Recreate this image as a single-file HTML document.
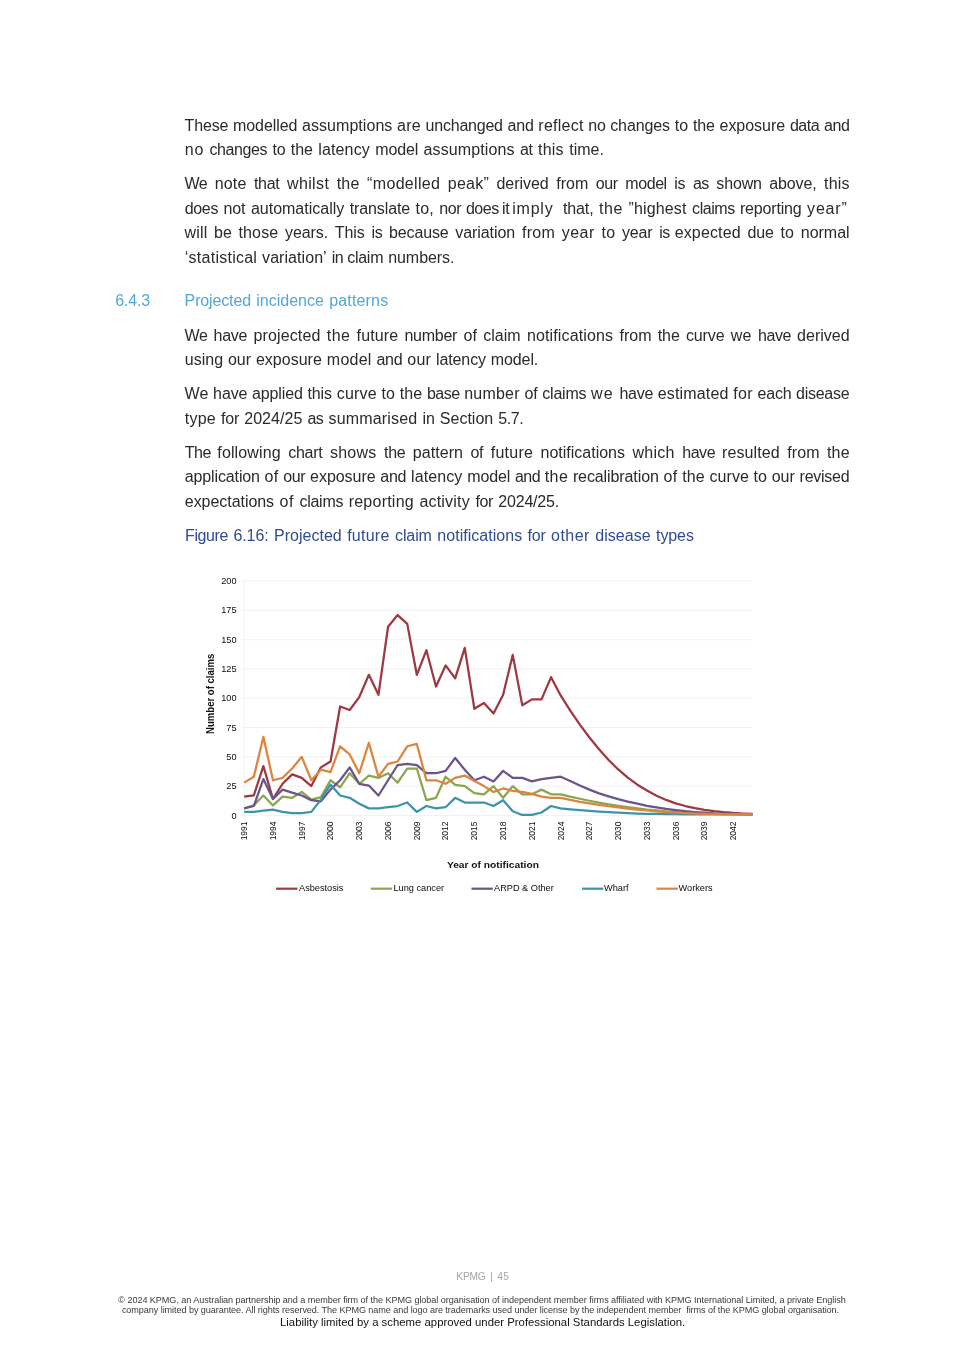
<!DOCTYPE html>
<html lang="en"><head><meta charset="utf-8"><title>Projected incidence patterns</title>
<style>
html,body{margin:0;padding:0;background:#fff}
body{width:965px;height:1365px;position:relative;overflow:hidden;font-family:"Liberation Sans", sans-serif}
.t{position:absolute;white-space:pre;margin:0}
.l{position:absolute;white-space:pre;margin:0;font-size:16px;line-height:20px;height:20px}
.l span{position:absolute;top:0}
svg{position:absolute;left:0;top:0}
svg text{font-family:"Liberation Sans", sans-serif}
</style></head><body>
<div class="l" style="left:184.5px;top:116.00px;color:#2a2a2a"><span style="left:0.0px;letter-spacing:-0.13px">These </span><span style="left:48.5px;letter-spacing:-0.07px">modelled </span><span style="left:117.6px;letter-spacing:0.04px">assumptions </span><span style="left:212.6px;letter-spacing:0.23px">are </span><span style="left:241.1px;letter-spacing:-0.22px">unchanged </span><span style="left:323.0px;letter-spacing:-0.20px">and </span><span style="left:353.8px;letter-spacing:0.25px">reflect </span><span style="left:403.8px;letter-spacing:-0.30px">no </span><span style="left:425.7px;letter-spacing:-0.10px">changes </span><span style="left:490.2px;letter-spacing:0.08px">to </span><span style="left:508.4px;letter-spacing:-0.12px">the </span><span style="left:535.0px;letter-spacing:-0.02px">exposure </span><span style="left:605.4px;letter-spacing:-0.44px">data </span><span style="left:639.5px;letter-spacing:-0.45px">and</span></div>
<div class="l" style="left:184.8px;top:140.00px;color:#2a2a2a"><span style="left:0.0px;letter-spacing:0.72px">no </span><span style="left:24.6px;letter-spacing:-0.39px">changes </span><span style="left:87.7px;letter-spacing:-0.25px">to </span><span style="left:105.9px;letter-spacing:-0.00px">the </span><span style="left:133.5px;letter-spacing:0.13px">latency </span><span style="left:190.5px;letter-spacing:-0.13px">model </span><span style="left:238.8px;letter-spacing:0.10px">assumptions </span><span style="left:335.1px;letter-spacing:-0.25px">at </span><span style="left:353.3px;letter-spacing:0.21px">this </span><span style="left:384.4px;letter-spacing:0.03px">time.</span></div>
<div class="l" style="left:184.5px;top:174.00px;color:#2a2a2a"><span style="left:0.0px;letter-spacing:-0.45px">We </span><span style="left:30.3px;letter-spacing:0.12px">note </span><span style="left:69.4px;letter-spacing:-0.27px">that </span><span style="left:102.5px;letter-spacing:0.37px">whilst </span><span style="left:152.2px;letter-spacing:0.22px">the </span><span style="left:182.6px;letter-spacing:0.33px">“modelled </span><span style="left:263.3px;letter-spacing:0.24px">peak” </span><span style="left:312.0px;letter-spacing:-0.04px">derived </span><span style="left:371.7px;letter-spacing:0.03px">from </span><span style="left:411.3px;letter-spacing:-0.37px">our </span><span style="left:440.8px;letter-spacing:-0.43px">model </span><span style="left:489.7px;letter-spacing:-0.17px">is </span><span style="left:508.4px;letter-spacing:-0.45px">as </span><span style="left:531.8px;letter-spacing:-0.15px">shown </span><span style="left:584.8px;letter-spacing:-0.14px">above, </span><span style="left:639.5px;letter-spacing:0.23px">this</span></div>
<div class="l" style="left:184.8px;top:199.00px;color:#2a2a2a"><span style="left:0.0px;letter-spacing:-0.37px">does </span><span style="left:38.7px;letter-spacing:-0.10px">not </span><span style="left:66.1px;letter-spacing:-0.00px">automatically </span><span style="left:164.9px;letter-spacing:-0.10px">translate </span><span style="left:230.8px;letter-spacing:0.15px">to, </span><span style="left:254.5px;letter-spacing:-0.45px">nor </span><span style="left:281.1px;letter-spacing:-0.45px">does </span><span style="left:317.3px;letter-spacing:-0.45px">it </span><span style="left:327.4px;letter-spacing:0.80px">imply </span><span style="left:378.1px;letter-spacing:-0.10px">that, </span><span style="left:414.2px;letter-spacing:0.56px">the </span><span style="left:443.6px;letter-spacing:0.16px">”highest </span><span style="left:507.3px;letter-spacing:-0.45px">claims </span><span style="left:555.1px;letter-spacing:-0.16px">reporting </span><span style="left:622.3px;letter-spacing:0.80px">year”</span></div>
<div class="l" style="left:184.5px;top:223.00px;color:#2a2a2a"><span style="left:0.0px;letter-spacing:0.18px">will </span><span style="left:29.6px;letter-spacing:-0.03px">be </span><span style="left:54.0px;letter-spacing:0.14px">those </span><span style="left:100.5px;letter-spacing:-0.09px">years. </span><span style="left:150.2px;letter-spacing:-0.02px">This </span><span style="left:187.0px;letter-spacing:-0.36px">is </span><span style="left:204.5px;letter-spacing:-0.14px">because </span><span style="left:270.7px;letter-spacing:-0.05px">variation </span><span style="left:337.4px;letter-spacing:0.29px">from </span><span style="left:377.2px;letter-spacing:0.50px">year </span><span style="left:417.0px;letter-spacing:0.25px">to </span><span style="left:437.5px;letter-spacing:-0.15px">year </span><span style="left:474.7px;letter-spacing:-0.45px">is </span><span style="left:490.2px;letter-spacing:0.14px">expected </span><span style="left:562.9px;letter-spacing:-0.12px">due </span><span style="left:595.9px;letter-spacing:0.20px">to </span><span style="left:616.3px;letter-spacing:-0.02px">normal</span></div>
<div class="l" style="left:184.8px;top:248.00px;color:#2a2a2a"><span style="left:0.0px;letter-spacing:0.25px">‘statistical </span><span style="left:77.3px;letter-spacing:0.06px">variation’ </span><span style="left:146.9px;letter-spacing:-0.45px">in </span><span style="left:162.4px;letter-spacing:-0.26px">claim </span><span style="left:203.4px;letter-spacing:-0.06px">numbers.</span></div>
<div class="l" style="left:115.2px;top:291.00px;color:#52a6da"><span style="left:0.0px;letter-spacing:-0.15px">6.4.3</span></div>
<div class="l" style="left:184.6px;top:291.00px;color:#52a6da"><span style="left:0.0px;letter-spacing:-0.14px">Projected </span><span style="left:71.6px;letter-spacing:0.01px">incidence </span><span style="left:144.6px;letter-spacing:0.17px">patterns</span></div>
<div class="l" style="left:184.5px;top:326.00px;color:#2a2a2a"><span style="left:0.0px;letter-spacing:-0.42px">We </span><span style="left:29.1px;letter-spacing:-0.28px">have </span><span style="left:68.9px;letter-spacing:0.15px">projected </span><span style="left:142.3px;letter-spacing:0.44px">the </span><span style="left:172.1px;letter-spacing:0.11px">future </span><span style="left:219.9px;letter-spacing:-0.25px">number </span><span style="left:278.9px;letter-spacing:0.16px">of </span><span style="left:298.8px;letter-spacing:0.01px">claim </span><span style="left:342.4px;letter-spacing:0.14px">notifications </span><span style="left:435.0px;letter-spacing:0.02px">from </span><span style="left:473.3px;letter-spacing:-0.13px">the </span><span style="left:501.4px;letter-spacing:-0.11px">curve </span><span style="left:546.2px;letter-spacing:0.36px">we </span><span style="left:573.6px;letter-spacing:-0.45px">have </span><span style="left:612.6px;letter-spacing:0.00px">derived</span></div>
<div class="l" style="left:184.8px;top:350.00px;color:#2a2a2a"><span style="left:0.0px;letter-spacing:0.01px">using </span><span style="left:43.2px;letter-spacing:-0.03px">our </span><span style="left:71.1px;letter-spacing:0.02px">exposure </span><span style="left:142.0px;letter-spacing:0.25px">model </span><span style="left:191.7px;letter-spacing:-0.29px">and </span><span style="left:222.4px;letter-spacing:0.30px">our </span><span style="left:251.3px;letter-spacing:-0.13px">latency </span><span style="left:306.0px;letter-spacing:-0.11px">model.</span></div>
<div class="l" style="left:184.5px;top:384.00px;color:#2a2a2a"><span style="left:0.0px;letter-spacing:0.09px">We </span><span style="left:28.6px;letter-spacing:-0.10px">have </span><span style="left:67.6px;letter-spacing:-0.14px">applied </span><span style="left:122.9px;letter-spacing:-0.08px">this </span><span style="left:152.2px;letter-spacing:0.20px">curve </span><span style="left:197.0px;letter-spacing:0.13px">to </span><span style="left:215.3px;letter-spacing:0.05px">the </span><span style="left:242.4px;letter-spacing:-0.45px">base </span><span style="left:279.7px;letter-spacing:0.21px">number </span><span style="left:339.9px;letter-spacing:-0.07px">of </span><span style="left:357.8px;letter-spacing:-0.22px">claims </span><span style="left:406.5px;letter-spacing:1.20px">we </span><span style="left:434.9px;letter-spacing:-0.25px">have </span><span style="left:473.3px;letter-spacing:0.15px">estimated </span><span style="left:548.7px;letter-spacing:0.34px">for </span><span style="left:573.1px;letter-spacing:-0.23px">each </span><span style="left:611.6px;letter-spacing:-0.28px">disease</span></div>
<div class="l" style="left:184.8px;top:409.00px;color:#2a2a2a"><span style="left:0.0px;letter-spacing:0.23px">type </span><span style="left:36.2px;letter-spacing:-0.17px">for </span><span style="left:59.4px;letter-spacing:0.05px">2024/25 </span><span style="left:122.6px;letter-spacing:-0.42px">as </span><span style="left:143.7px;letter-spacing:0.17px">summarised </span><span style="left:237.6px;letter-spacing:-0.04px">in </span><span style="left:255.0px;letter-spacing:0.01px">Section </span><span style="left:313.5px;letter-spacing:-0.45px">5.7.</span></div>
<div class="l" style="left:184.8px;top:443.00px;color:#2a2a2a"><span style="left:0.0px;letter-spacing:-0.45px">The </span><span style="left:32.5px;letter-spacing:0.14px">following </span><span style="left:103.4px;letter-spacing:-0.24px">chart </span><span style="left:145.2px;letter-spacing:0.24px">shows </span><span style="left:199.2px;letter-spacing:-0.29px">the </span><span style="left:228.0px;letter-spacing:0.05px">pattern </span><span style="left:285.6px;letter-spacing:-0.18px">of </span><span style="left:306.0px;letter-spacing:0.23px">future </span><span style="left:355.7px;letter-spacing:-0.00px">notifications </span><span style="left:447.6px;letter-spacing:0.30px">which </span><span style="left:497.4px;letter-spacing:-0.45px">have </span><span style="left:537.2px;letter-spacing:0.11px">resulted </span><span style="left:602.4px;letter-spacing:0.10px">from </span><span style="left:642.2px;letter-spacing:0.18px">the</span></div>
<div class="l" style="left:184.8px;top:467.00px;color:#2a2a2a"><span style="left:0.0px;letter-spacing:-0.13px">application </span><span style="left:79.8px;letter-spacing:0.28px">of </span><span style="left:98.4px;letter-spacing:-0.31px">our </span><span style="left:125.3px;letter-spacing:-0.05px">exposure </span><span style="left:195.4px;letter-spacing:-0.20px">and </span><span style="left:226.2px;letter-spacing:0.11px">latency </span><span style="left:282.4px;letter-spacing:-0.12px">model </span><span style="left:330.1px;letter-spacing:-0.45px">and </span><span style="left:360.0px;letter-spacing:0.38px">the </span><span style="left:388.1px;letter-spacing:-0.10px">recalibration </span><span style="left:478.7px;letter-spacing:0.33px">of </span><span style="left:497.4px;letter-spacing:0.15px">the </span><span style="left:524.8px;letter-spacing:0.03px">curve </span><span style="left:568.8px;letter-spacing:0.03px">to </span><span style="left:586.9px;letter-spacing:0.02px">our </span><span style="left:614.8px;letter-spacing:-0.26px">revised</span></div>
<div class="l" style="left:184.8px;top:492.00px;color:#2a2a2a"><span style="left:0.0px;letter-spacing:-0.05px">expectations </span><span style="left:94.7px;letter-spacing:0.54px">of </span><span style="left:114.6px;letter-spacing:-0.25px">claims </span><span style="left:163.9px;letter-spacing:0.23px">reporting </span><span style="left:234.6px;letter-spacing:0.20px">activity </span><span style="left:290.6px;letter-spacing:-0.42px">for </span><span style="left:313.5px;letter-spacing:-0.20px">2024/25.</span></div>
<div class="l" style="left:185.0px;top:526.00px;color:#2f4c8f"><span style="left:0.0px;letter-spacing:-0.38px">Figure </span><span style="left:48.5px;letter-spacing:-0.11px">6.16: </span><span style="left:89.0px;letter-spacing:0.02px">Projected </span><span style="left:162.2px;letter-spacing:0.24px">future </span><span style="left:210.0px;letter-spacing:-0.10px">claim </span><span style="left:252.3px;letter-spacing:0.03px">notifications </span><span style="left:342.6px;letter-spacing:-0.24px">for </span><span style="left:366.0px;letter-spacing:0.48px">other </span><span style="left:410.3px;letter-spacing:0.03px">disease </span><span style="left:471.1px;letter-spacing:-0.11px">types</span></div>
<div class="l" style="left:456.3px;top:1267.00px;font-size:10.2px;color:#a4a4a4"><span style="left:0.0px;letter-spacing:-0.20px">KPMG </span><span style="left:33.9px;letter-spacing:-0.36px">| </span><span style="left:40.9px;letter-spacing:0.36px">45</span></div>
<div class="t" style="left:118.3px;top:1294.00px;font-size:9.1px;line-height:13px;letter-spacing:-0.062px;color:#3a3a3a">© 2024 KPMG, an Australian partnership and a member firm of the KPMG global organisation of independent member firms affiliated with KPMG International Limited, a private English</div>
<div class="t" style="left:121.9px;top:1304.00px;font-size:9.1px;line-height:13px;letter-spacing:-0.076px;color:#3a3a3a">company limited by guarantee. All rights reserved. The KPMG name and logo are trademarks used under license by the independent member  firms of the KPMG global organisation.</div>
<div class="t" style="left:280.0px;top:1314.00px;font-size:11.35px;line-height:16px;letter-spacing:0.005px;color:#111">Liability limited by a scheme approved under Professional Standards Legislation.</div>
<svg width="965" height="1365" viewBox="0 0 965 1365">
<line x1="241.5" x2="752.2" y1="815.40" y2="815.40" stroke="#f1f1f1" stroke-width="1"/>
<text transform="translate(236.6,818.50) scale(1.045,1)" font-size="8.8" text-anchor="end" fill="#0d0d0d">0</text>
<line x1="241.5" x2="752.2" y1="786.11" y2="786.11" stroke="#f1f1f1" stroke-width="1"/>
<text transform="translate(236.6,789.21) scale(1.045,1)" font-size="8.8" text-anchor="end" fill="#0d0d0d">25</text>
<line x1="241.5" x2="752.2" y1="756.82" y2="756.82" stroke="#f1f1f1" stroke-width="1"/>
<text transform="translate(236.6,759.92) scale(1.045,1)" font-size="8.8" text-anchor="end" fill="#0d0d0d">50</text>
<line x1="241.5" x2="752.2" y1="727.53" y2="727.53" stroke="#f1f1f1" stroke-width="1"/>
<text transform="translate(236.6,730.63) scale(1.045,1)" font-size="8.8" text-anchor="end" fill="#0d0d0d">75</text>
<line x1="241.5" x2="752.2" y1="698.24" y2="698.24" stroke="#f1f1f1" stroke-width="1"/>
<text transform="translate(236.6,701.34) scale(1.045,1)" font-size="8.8" text-anchor="end" fill="#0d0d0d">100</text>
<line x1="241.5" x2="752.2" y1="668.95" y2="668.95" stroke="#f1f1f1" stroke-width="1"/>
<text transform="translate(236.6,672.05) scale(1.045,1)" font-size="8.8" text-anchor="end" fill="#0d0d0d">125</text>
<line x1="241.5" x2="752.2" y1="639.66" y2="639.66" stroke="#f1f1f1" stroke-width="1"/>
<text transform="translate(236.6,642.76) scale(1.045,1)" font-size="8.8" text-anchor="end" fill="#0d0d0d">150</text>
<line x1="241.5" x2="752.2" y1="610.37" y2="610.37" stroke="#f1f1f1" stroke-width="1"/>
<text transform="translate(236.6,613.47) scale(1.045,1)" font-size="8.8" text-anchor="end" fill="#0d0d0d">175</text>
<line x1="241.5" x2="752.2" y1="581.08" y2="581.08" stroke="#f1f1f1" stroke-width="1"/>
<text transform="translate(236.6,584.18) scale(1.045,1)" font-size="8.8" text-anchor="end" fill="#0d0d0d">200</text>
<line x1="244.20" x2="244.20" y1="581.08" y2="815.40" stroke="#f1f1f1" stroke-width="1"/>
<text transform="translate(247.10,821.50) rotate(-90) scale(1,1.08)" font-size="8.5" text-anchor="end" fill="#0d0d0d">1991</text>
<text transform="translate(275.87,821.50) rotate(-90) scale(1,1.08)" font-size="8.5" text-anchor="end" fill="#0d0d0d">1994</text>
<text transform="translate(304.64,821.50) rotate(-90) scale(1,1.08)" font-size="8.5" text-anchor="end" fill="#0d0d0d">1997</text>
<text transform="translate(333.41,821.50) rotate(-90) scale(1,1.08)" font-size="8.5" text-anchor="end" fill="#0d0d0d">2000</text>
<text transform="translate(362.18,821.50) rotate(-90) scale(1,1.08)" font-size="8.5" text-anchor="end" fill="#0d0d0d">2003</text>
<text transform="translate(390.95,821.50) rotate(-90) scale(1,1.08)" font-size="8.5" text-anchor="end" fill="#0d0d0d">2006</text>
<text transform="translate(419.72,821.50) rotate(-90) scale(1,1.08)" font-size="8.5" text-anchor="end" fill="#0d0d0d">2009</text>
<text transform="translate(448.49,821.50) rotate(-90) scale(1,1.08)" font-size="8.5" text-anchor="end" fill="#0d0d0d">2012</text>
<text transform="translate(477.26,821.50) rotate(-90) scale(1,1.08)" font-size="8.5" text-anchor="end" fill="#0d0d0d">2015</text>
<text transform="translate(506.03,821.50) rotate(-90) scale(1,1.08)" font-size="8.5" text-anchor="end" fill="#0d0d0d">2018</text>
<text transform="translate(534.80,821.50) rotate(-90) scale(1,1.08)" font-size="8.5" text-anchor="end" fill="#0d0d0d">2021</text>
<text transform="translate(563.57,821.50) rotate(-90) scale(1,1.08)" font-size="8.5" text-anchor="end" fill="#0d0d0d">2024</text>
<text transform="translate(592.34,821.50) rotate(-90) scale(1,1.08)" font-size="8.5" text-anchor="end" fill="#0d0d0d">2027</text>
<text transform="translate(621.11,821.50) rotate(-90) scale(1,1.08)" font-size="8.5" text-anchor="end" fill="#0d0d0d">2030</text>
<text transform="translate(649.88,821.50) rotate(-90) scale(1,1.08)" font-size="8.5" text-anchor="end" fill="#0d0d0d">2033</text>
<text transform="translate(678.65,821.50) rotate(-90) scale(1,1.08)" font-size="8.5" text-anchor="end" fill="#0d0d0d">2036</text>
<text transform="translate(707.42,821.50) rotate(-90) scale(1,1.08)" font-size="8.5" text-anchor="end" fill="#0d0d0d">2039</text>
<text transform="translate(736.19,821.50) rotate(-90) scale(1,1.08)" font-size="8.5" text-anchor="end" fill="#0d0d0d">2042</text>
<polyline points="244.20,796.65 253.79,795.48 263.38,766.19 272.97,799.00 282.56,783.77 292.15,774.39 301.74,777.91 311.33,786.11 320.92,767.36 330.51,761.51 340.10,706.44 349.69,709.96 359.28,697.07 368.87,674.81 378.46,694.73 388.05,626.77 397.64,615.06 407.23,623.84 416.82,674.81 426.41,650.20 436.00,686.52 445.59,665.44 455.18,678.32 464.77,647.86 474.36,708.78 483.95,702.93 493.54,713.47 503.13,694.73 512.72,654.89 522.31,705.27 531.90,699.41 541.49,699.41 551.08,677.15 560.67,695.43 570.26,710.54 579.85,724.60 589.44,737.49 599.03,749.20 608.62,759.98 618.21,769.47 627.80,777.67 637.39,784.70 646.98,790.56 656.57,795.72 666.16,799.93 675.75,803.33 685.34,806.03 694.93,808.14 704.52,809.78 714.11,811.07 723.70,812.12 733.29,812.94 742.88,813.53 752.47,813.99" fill="none" stroke="#9c3941" stroke-width="2.25" stroke-linejoin="round" stroke-linecap="butt"/>
<polyline points="244.20,808.37 253.79,805.44 263.38,795.48 272.97,805.44 282.56,796.65 292.15,797.83 301.74,791.97 311.33,799.58 320.92,797.12 330.51,780.25 340.10,787.28 349.69,773.22 359.28,783.77 368.87,775.57 378.46,777.91 388.05,773.22 397.64,782.60 407.23,768.54 416.82,768.54 426.41,800.17 436.00,797.83 445.59,776.74 455.18,784.94 464.77,786.11 474.36,793.14 483.95,794.31 493.54,786.11 503.13,797.83 512.72,786.11 522.31,794.31 531.90,794.31 541.49,789.62 551.08,794.31 560.67,794.31 570.26,796.65 579.85,798.76 589.44,800.75 599.03,802.63 608.62,804.27 618.21,805.79 627.80,807.20 637.39,808.37 646.98,809.54 656.57,810.48 666.16,811.42 675.75,812.12 685.34,812.71 694.93,813.17 704.52,813.53 714.11,813.88 723.70,814.11 733.29,814.23 742.88,814.35 752.47,814.46" fill="none" stroke="#8aa650" stroke-width="2.25" stroke-linejoin="round" stroke-linecap="butt"/>
<polyline points="244.20,808.37 253.79,806.03 263.38,779.08 272.97,799.00 282.56,789.62 292.15,792.67 301.74,795.48 311.33,800.17 320.92,801.34 330.51,789.62 340.10,780.25 349.69,767.36 359.28,783.77 368.87,785.52 378.46,795.48 388.05,780.25 397.64,765.02 407.23,763.85 416.82,765.02 426.41,773.22 436.00,773.22 445.59,770.88 455.18,757.99 464.77,769.71 474.36,780.25 483.95,776.74 493.54,781.42 503.13,770.88 512.72,777.91 522.31,777.91 531.90,781.42 541.49,779.08 551.08,777.91 560.67,776.74 570.26,781.07 579.85,785.52 589.44,789.62 599.03,793.37 608.62,796.30 618.21,799.11 627.80,801.58 637.39,803.68 646.98,805.79 656.57,807.43 666.16,808.96 675.75,810.13 685.34,811.18 694.93,812.00 704.52,812.71 714.11,813.29 723.70,813.64 733.29,813.99 742.88,814.23 752.47,814.35" fill="none" stroke="#6a558a" stroke-width="2.25" stroke-linejoin="round" stroke-linecap="butt"/>
<polyline points="244.20,811.89 253.79,811.89 263.38,810.71 272.97,809.54 282.56,811.89 292.15,813.06 301.74,813.06 311.33,811.89 320.92,799.58 330.51,784.59 340.10,795.48 349.69,797.83 359.28,803.68 368.87,808.37 378.46,808.37 388.05,807.20 397.64,806.03 407.23,802.51 416.82,811.89 426.41,806.03 436.00,808.37 445.59,807.20 455.18,797.83 464.77,802.51 474.36,802.51 483.95,802.51 493.54,806.03 503.13,800.17 512.72,811.30 522.31,814.93 531.90,814.93 541.49,812.47 551.08,806.03 560.67,808.37 570.26,809.31 579.85,810.13 589.44,810.95 599.03,811.65 608.62,812.24 618.21,812.71 627.80,813.17 637.39,813.53 646.98,813.76 656.57,813.99 666.16,814.11 675.75,814.23 685.34,814.35 694.93,814.35 704.52,814.46 714.11,814.46 723.70,814.46 733.29,814.46 742.88,814.46 752.47,814.46" fill="none" stroke="#3c93aa" stroke-width="2.25" stroke-linejoin="round" stroke-linecap="butt"/>
<polyline points="244.20,782.60 253.79,776.74 263.38,736.90 272.97,780.25 282.56,777.91 292.15,768.54 301.74,756.82 311.33,780.25 320.92,769.71 330.51,772.05 340.10,746.28 349.69,754.48 359.28,773.22 368.87,742.76 378.46,776.74 388.05,763.85 397.64,761.51 407.23,746.28 416.82,743.93 426.41,780.25 436.00,780.25 445.59,783.77 455.18,777.91 464.77,775.57 474.36,781.07 483.95,786.11 493.54,791.97 503.13,788.45 512.72,790.80 522.31,791.97 531.90,793.84 541.49,796.65 551.08,797.83 560.67,797.83 570.26,799.93 579.85,801.81 589.44,803.45 599.03,804.97 608.62,806.26 618.21,807.43 627.80,808.60 637.39,809.54 646.98,810.48 656.57,811.30 666.16,812.12 675.75,812.71 685.34,813.17 694.93,813.53 704.52,813.76 714.11,813.99 723.70,814.23 733.29,814.35 742.88,814.35 752.47,814.46" fill="none" stroke="#dc853e" stroke-width="2.25" stroke-linejoin="round" stroke-linecap="butt"/>
<text transform="translate(214.3,693.8) rotate(-90) scale(1,1.05)" font-size="9.56" font-weight="bold" text-anchor="middle" fill="#111">Number of claims</text>
<text transform="translate(492.9,867.9) scale(1.065,1)" font-size="9.6" font-weight="bold" text-anchor="middle" fill="#111">Year of notification</text>
<line x1="276.1" x2="297.4" y1="888.7" y2="888.7" stroke="#9c3941" stroke-width="2.2"/>
<text transform="translate(299.0,891.4) scale(1.045,1)" font-size="8.8" fill="#0d0d0d">Asbestosis</text>
<line x1="370.8" x2="392.1" y1="888.7" y2="888.7" stroke="#8aa650" stroke-width="2.2"/>
<text transform="translate(393.5,891.4) scale(1.045,1)" font-size="8.8" fill="#0d0d0d">Lung cancer</text>
<line x1="471.5" x2="492.8" y1="888.7" y2="888.7" stroke="#6a558a" stroke-width="2.2"/>
<text transform="translate(494.0,891.4) scale(1.045,1)" font-size="8.8" fill="#0d0d0d">ARPD &amp; Other</text>
<line x1="582.0" x2="603.3" y1="888.7" y2="888.7" stroke="#3c93aa" stroke-width="2.2"/>
<text transform="translate(604.0,891.4) scale(1.045,1)" font-size="8.8" fill="#0d0d0d">Wharf</text>
<line x1="656.5" x2="677.8" y1="888.7" y2="888.7" stroke="#dc853e" stroke-width="2.2"/>
<text transform="translate(678.5,891.4) scale(1.045,1)" font-size="8.8" fill="#0d0d0d">Workers</text>
</svg>
</body></html>
